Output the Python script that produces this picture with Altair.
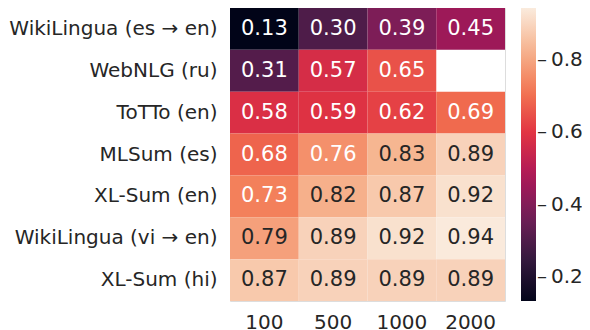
import altair as alt
import pandas as pd
import numpy as np

tasks = ["WikiLingua (es → en)", "WebNLG (ru)", "ToTTo (en)", "MLSum (es)",
         "XL-Sum (en)", "WikiLingua (vi → en)", "XL-Sum (hi)"]
sizes = ["100", "500", "1000", "2000"]

wiki_es = [0.13, 0.30, 0.39, 0.45]
webnlg_ru = [0.31, 0.57, 0.65, None]
totto_en = [0.58, 0.59, 0.62, 0.69]
mlsum_es = [0.68, 0.76, 0.83, 0.89]
xlsum_en = [0.73, 0.82, 0.87, 0.92]
wiki_vi = [0.79, 0.89, 0.92, 0.94]
xlsum_hi = [0.87, 0.89, 0.89, 0.89]

rows_vals = [wiki_es, webnlg_ru, totto_en, mlsum_es, xlsum_en, wiki_vi, xlsum_hi]

records = []
for t, vals in zip(tasks, rows_vals):
    for s, v in zip(sizes, vals):
        if v is not None:
            records.append({"task": t, "size": s, "v": v})
df = pd.DataFrame(records)

# rocket colormap stops
rocket = ["#03051a", "#35193e", "#701f57", "#ad1759", "#e13342",
          "#f37651", "#f6b48f", "#faebdd"]
vmin, vmax = 0.135, 0.942
dom = [float(x) for x in np.linspace(vmin, vmax, len(rocket))]

FONT = "DejaVu Sans"
TXT = "#262626"
W, H = 275, 293

base = alt.Chart(df).encode(
    x=alt.X("size:O", sort=sizes,
            scale=alt.Scale(paddingInner=0, paddingOuter=0),
            axis=alt.Axis(title=None, orient="bottom", labelAngle=0, ticks=False,
                          domain=False, labelFontSize=20, labelFont=FONT,
                          labelColor=TXT, labelPadding=11)),
    y=alt.Y("task:N", sort=tasks,
            scale=alt.Scale(paddingInner=0, paddingOuter=0),
            axis=alt.Axis(title=None, ticks=False, domain=False, labelFontSize=20,
                          labelFont=FONT, labelColor=TXT, labelPadding=13,
                          labelLimit=0)),
)

rect = base.mark_rect().encode(
    color=alt.Color("v:Q",
                    scale=alt.Scale(domain=dom, range=rocket, interpolate="rgb"),
                    legend=alt.Legend(title=None, orient="right", type="gradient",
                                      gradientLength=H, gradientThickness=15,
                                      gradientStrokeWidth=0, offset=16,
                                      values=[0.2, 0.4, 0.6, 0.8], format=".1f",
                                      labelExpr="'–\u2009' + datum.label",
                                      labelFontSize=20, labelFont=FONT,
                                      labelColor=TXT, labelOffset=1,
                                      labelLimit=0))
)

text = base.mark_text(fontSize=21, font=FONT).encode(
    text=alt.Text("v:Q", format=".2f"),
    color=alt.condition(alt.datum.v < 0.775, alt.value("white"), alt.value(TXT)),
)

chart = (rect + text).properties(
    width=W, height=H,
    autosize=alt.AutoSizeParams(type="none"),
    padding={"left": 222, "top": 0, "right": 77, "bottom": 28},
).configure_view(stroke=None).configure(background="white")

chart.save("out.html", embed_options={"renderer": "svg", "actions": False})
